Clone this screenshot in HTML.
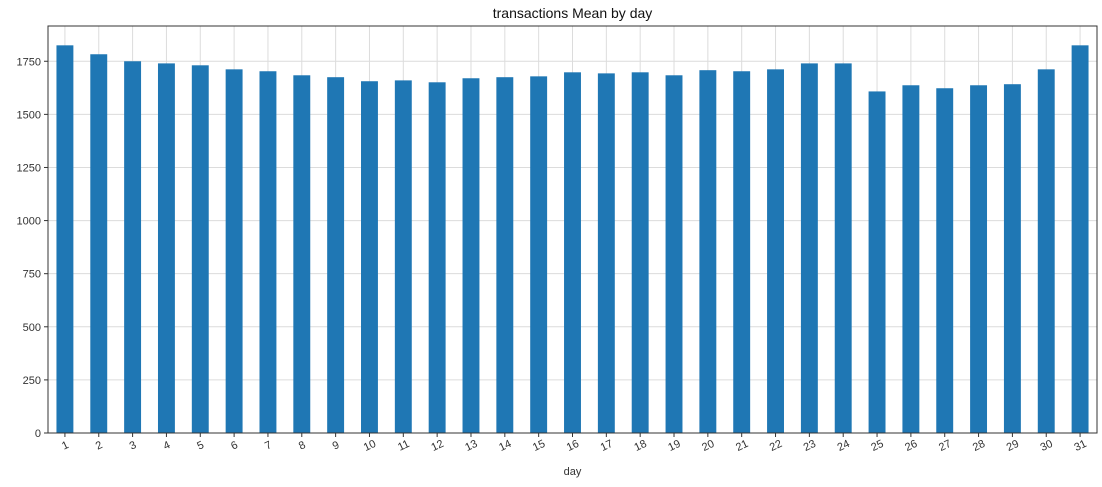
<!DOCTYPE html>
<html><head><meta charset="utf-8"><style>
body{margin:0;background:#fff;}
svg{display:block;font-family:"Liberation Sans","DejaVu Sans",sans-serif;}
</style></head><body>
<svg id="chart" width="1102" height="487"></svg>
<script>
const categories=[1,2,3,4,5,6,7,8,9,10,11,12,13,14,15,16,17,18,19,20,21,22,23,24,25,26,27,28,29,30,31];
const values=[1825,1783,1750,1740,1731,1712,1703,1684,1675,1656,1660,1651,1670,1675,1679,1698,1693,1698,1684,1708,1703,1712,1740,1740,1608,1637,1623,1637,1642,1712,1825];
const yTicks=[0,250,500,750,1000,1250,1500,1750];
const NS="http://www.w3.org/2000/svg";
const svg=document.getElementById('chart');
const L=48,R=1097,T=26,B=433;
const yMax=1916;
const y=v=>B-(v/yMax)*(B-T);
const step=(R-L)/categories.length;
const x=i=>L+step*(i+0.5);
function mk(t,a,p){const e=document.createElementNS(NS,t);for(const k in a)e.setAttribute(k,a[k]);(p||svg).appendChild(e);return e;}
yTicks.forEach(t=>{
 const g=mk('line',{x1:L,x2:R,y1:y(t),y2:y(t),stroke:'#dcdcdc','stroke-width':1});
 
 
 mk('line',{x1:L-4,x2:L,y1:y(t),y2:y(t),stroke:'#333'});
 const tx=mk('text',{x:L-7,y:y(t)+4,'text-anchor':'end','font-size':11,fill:'#333'});
 tx.textContent=t;
 
 
});
categories.forEach((c,i)=>{
 const gl=mk('line',{x1:x(i),x2:x(i),y1:T,y2:B,stroke:'#dcdcdc'});
 
 
});
categories.forEach((c,i)=>{
 const w=step*0.5;
 const r=mk('rect',{x:x(i)-w/2,y:y(values[i]),width:w,height:B-y(values[i]),fill:'#1f77b4'});
 
 
 mk('line',{x1:x(i),x2:x(i),y1:B,y2:B+4,stroke:'#333'});
 const t=mk('text',{x:x(i),y:B+16,'text-anchor':'middle','font-size':11,fill:'#333',transform:`rotate(-25 ${x(i)} ${B+12})`});
 t.textContent=c;
 
 
});
const fr=mk('rect',{x:L,y:T,width:R-L,height:B-T,fill:'none',stroke:'#333','stroke-width':1});


const ti=mk('text',{x:(L+R)/2,y:18,'text-anchor':'middle','font-size':14,fill:'#111'});
ti.textContent='transactions Mean by day';


const xl=mk('text',{x:(L+R)/2,y:475,'text-anchor':'middle','font-size':11,fill:'#333'});
xl.textContent='day';


</script>
</body></html>
